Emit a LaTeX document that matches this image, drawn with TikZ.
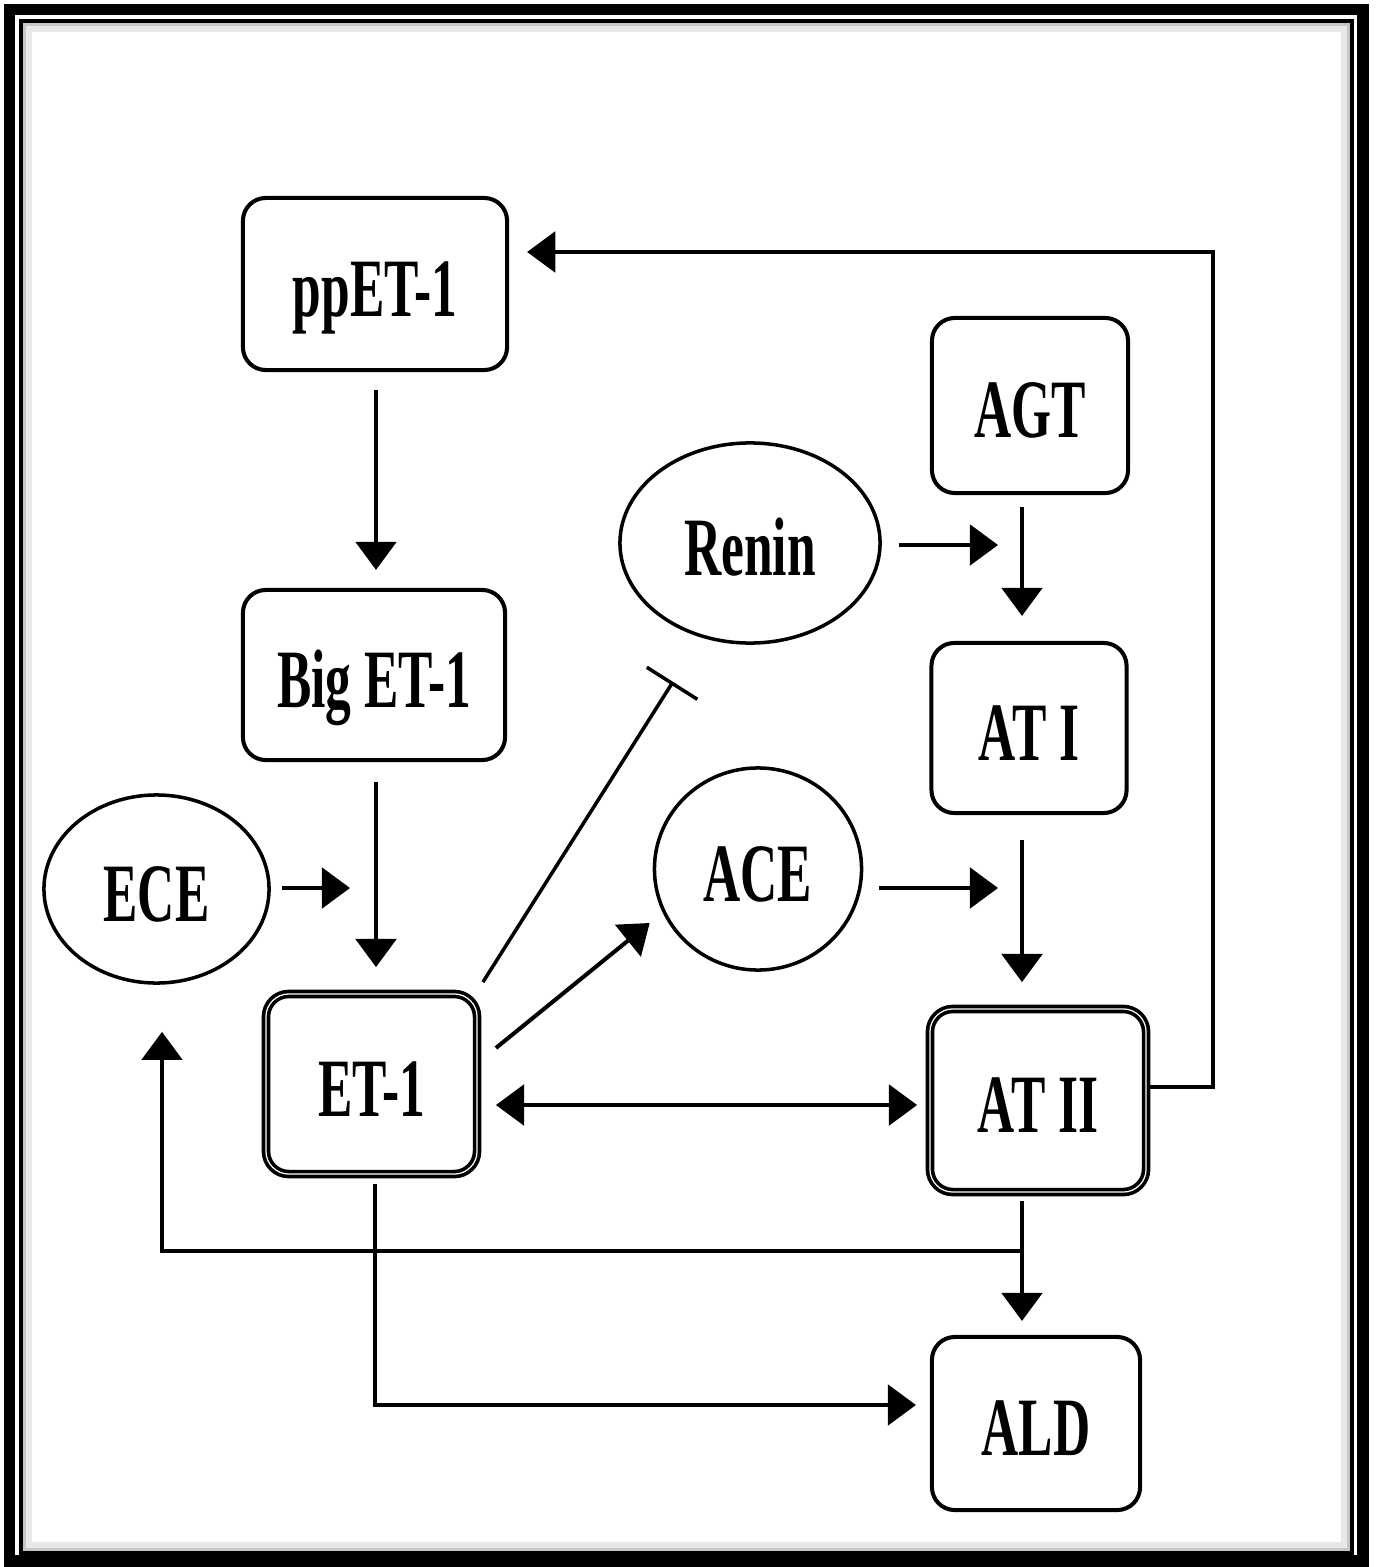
\documentclass[tikz,border=0pt]{standalone}
\usepackage{fontspec}
\setmainfont{Liberation Serif}[FakeStretch=0.62]
\usetikzlibrary{shapes.geometric,arrows.meta,calc}
\tikzset{
  lbl/.style={font=\fontsize{23.6}{28}\selectfont\bfseries, text height=0.64cm, text depth=0pt},
  box/.style={draw, rounded corners=6.5pt, line width=1.15pt, inner sep=0pt, lbl},
  dbox/.style={box, double=white, double distance=0.35pt, line width=1.05pt},
  ell/.style={draw, ellipse, line width=1pt, inner sep=0pt, lbl},
  arr/.style={-{Triangle[length=8pt,width=11.5pt]}, line width=1.15pt},
  darr/.style={{Triangle[length=8pt,width=11.5pt]}-{Triangle[length=8pt,width=11.5pt]}, line width=1.15pt},
  inh/.style={-{Bar[width=17pt,line width=1pt]}, line width=1pt},
}
\begin{document}
\begin{tikzpicture}[x=0.01cm,y=-0.01cm]
\useasboundingbox (0,0) rectangle (1376,1567);
\fill[white] (0,0) rectangle (1376,1567);
% frame
\draw[line width=3.2pt] (9.5,9.5) rectangle (1363,1561);
\draw[gray!45, line width=1.4pt] (25,25) rectangle (1348,1549);
\draw[gray!18, line width=1.6pt] (29,29) rectangle (1344,1545);
\draw[line width=0.95pt] (21,21) rectangle (1352,1553);

% nodes
\node[box, minimum width=2.64cm, minimum height=1.72cm] (pp) at (375,284) {ppET-1};
\node[box, minimum width=2.62cm, minimum height=1.70cm] (big) at (374,675) {Big ET-1};
\node[dbox, minimum width=2.11cm, minimum height=1.80cm] (et1) at (371.5,1084) {ET-1};
\node[ell, minimum width=2.25cm, minimum height=1.88cm] (ece) at (156.5,889) {ECE};
\node[ell, minimum width=2.60cm, minimum height=2.00cm] (renin) at (750,543) {Renin};
\node[ell, minimum width=2.07cm, minimum height=2.02cm] (ace) at (758,869) {ACE};
\node[box, minimum width=1.96cm, minimum height=1.75cm] (agt) at (1030,405.5) {AGT};
\node[box, minimum width=1.95cm, minimum height=1.70cm] (ati) at (1029,728) {AT I};
\node[dbox, minimum width=2.16cm, minimum height=1.83cm] (atii) at (1038,1100.5) {AT II};
\node[box, minimum width=2.08cm, minimum height=1.73cm] (ald) at (1036,1423.5) {ALD};

% free ends
\coordinate (eceT) at (350,888);
\coordinate (reninT) at (998,545);
\coordinate (aceT) at (998,888);

% connectors
\draw[arr, shorten <=0.18cm, shorten >=0.18cm] ([xshift=0.01cm]pp.south) -- ([xshift=0.01cm]pp.south |- big.north);
\draw[arr, shorten <=0.2cm, shorten >=0.25cm] ([xshift=0.02cm]big.south) -- ([xshift=0.02cm]big.south |- et1.north);
\draw[arr, shorten <=0.11cm] (ece.east |- eceT) -- (eceT);
\draw[arr, shorten <=0.17cm] (renin.east |- reninT) -- (reninT);
\draw[arr, shorten <=0.16cm] ($(ace.east)+(0,19)$) -- (aceT);
\draw[arr, shorten <=0.12cm, shorten >=0.25cm] ([xshift=-0.08cm]agt.south) -- ([xshift=-0.08cm]agt.south |- ati.north);
\draw[arr, shorten <=0.25cm, shorten >=0.25cm] ([xshift=-0.07cm]ati.south) -- ([xshift=-0.07cm]ati.south |- atii.north);
\draw[arr, shorten <=0.07cm, shorten >=0.14cm] ([xshift=-0.16cm]atii.south) -- ([xshift=-0.16cm]atii.south |- ald.north);
\draw[darr, shorten <=0.17cm, shorten >=0.11cm] ([yshift=-0.21cm]et1.east) -- ([yshift=-0.21cm]et1.east -| atii.west);
\draw[arr] ($(et1.east)+(17,-36)$) -- ($(ace.west)+(-3,54)$);
\draw[inh] ($(et1.north east)+(4,-10)$) -- ($(renin.south)+(-77,37)$);
\draw[arr, shorten >=0.18cm] ([yshift=0.135cm]atii.east) -- ++(65,0) |- ([yshift=0.32cm]pp.east);
\draw[arr, shorten >=0.47cm] ($([xshift=-0.16cm]atii.south)+(0,57)$) -| ([xshift=0.055cm]ece.south);
\draw[arr, shorten <=0.08cm, shorten >=0.14cm] ([xshift=0.035cm]et1.south) |- ([yshift=0.185cm]ald.west);
\end{tikzpicture}
\end{document}
